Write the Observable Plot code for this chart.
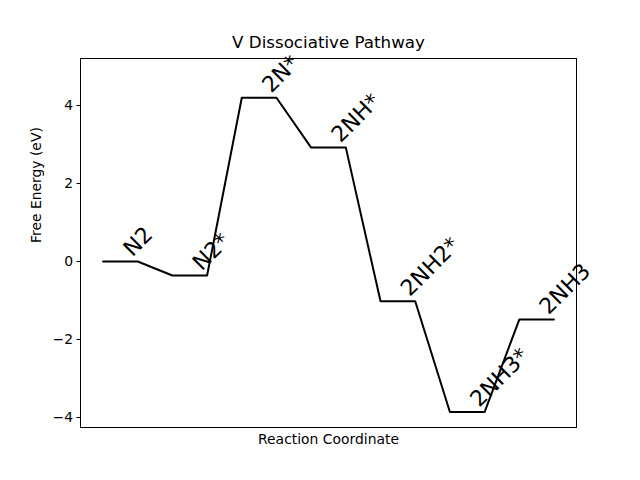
<!DOCTYPE html>
<html><head><meta charset="utf-8">
<script src="https://cdn.jsdelivr.net/npm/d3@7"></script>
<script src="https://cdn.jsdelivr.net/npm/@observablehq/plot@0.6"></script>
<style>body{margin:0;background:#fff}</style>
</head><body><div id="chart"></div>
<script>
const steps = ["N2", "N2*", "2N*", "2NH*", "2NH2*", "2NH3*", "2NH3"];
const energies = [0, -0.36, 4.2, 2.92, -1.02, -3.86, -1.49];
const yTicks = [-4, -2, 0, 2, 4];
const title = "V Dissociative Pathway";
const xLabel = "Reaction Coordinate";
const yLabel = "Free Energy (eV)";

const pathPts = steps.flatMap((s, i) => [{x: i, y: energies[i]}, {x: i + 0.5, y: energies[i]}]);
const labels = steps.map((s, i) => ({x: i + 0.25, y: energies[i], label: s}));

const chart = Plot.plot({
  width: 640, height: 480,
  marginLeft: 80, marginRight: 64, marginTop: 58, marginBottom: 53,
  style: {fontFamily: "DejaVu Sans", background: "white", color: "black", fontSize: "13.9px"},
  x: {domain: [-0.325, 6.825], axis: null},
  y: {domain: [-4.256, 5.205], axis: null},
  marks: [
    Plot.axisY({ticks: yTicks, tickSize: 3.5, tickPadding: 4, label: null}),
    Plot.line(pathPts, {x: "x", y: "y", stroke: "black", strokeWidth: 2}),
    Plot.text(labels, {x: "x", y: "y", text: "label", rotate: -45, textAnchor: "start", lineAnchor: "bottom", fontSize: 22, dx: 12, dy: -4, fill: "black"}),
    Plot.frame({stroke: "black"}),
    Plot.text([title], {frameAnchor: "top", lineAnchor: "middle", dy: -16, fontSize: 16.7, fill: "black"}),
    Plot.text([xLabel], {frameAnchor: "bottom", lineAnchor: "middle", dy: 12.5, fill: "black"}),
    Plot.text([yLabel], {frameAnchor: "left", lineAnchor: "middle", dx: -44, rotate: -90, fill: "black"})
  ]
});
document.getElementById("chart").append(chart);
</script>
</body></html>
